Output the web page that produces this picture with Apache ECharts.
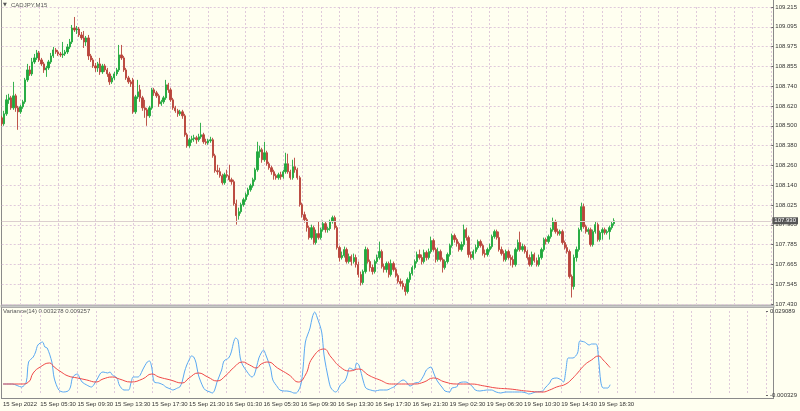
<!DOCTYPE html>
<html><head><meta charset="utf-8">
<script src="https://cdn.jsdelivr.net/npm/echarts@6/dist/echarts.min.js"></script>
<style>html,body{margin:0;padding:0;background:#fffff0;}#c{width:800px;height:411px;}</style>
</head><body><div id="c"></div><script>
const priceTickLabels = ['107.430','107.545','107.665','107.785','107.905','108.025','108.140','108.260','108.380','108.500','108.620','108.740','108.855','108.975','109.095','109.215'];
const varianceTickLabels = ['-0.000329','0.029089'];
const timeTickLabels = ['15 Sep 2022','15 Sep 05:30','15 Sep 09:30','15 Sep 13:30','15 Sep 17:30','15 Sep 21:30','16 Sep 01:30','16 Sep 05:30','16 Sep 09:30','16 Sep 13:30','16 Sep 17:30','16 Sep 21:30','19 Sep 02:30','19 Sep 06:30','19 Sep 10:30','19 Sep 14:30','19 Sep 18:30'];
const lastPrice = 107.930;
// [open, close, low, high]
const candles15 = [
[108.549,108.513,108.501,108.561],[108.513,108.573,108.501,108.591],[108.573,108.657,108.561,108.687],[108.657,108.669,108.633,108.693],[108.669,108.609,108.597,108.681],
[108.609,108.681,108.597,108.765],[108.681,108.609,108.585,108.693],[108.609,108.585,108.477,108.621],[108.585,108.615,108.573,108.627],[108.615,108.645,108.603,108.657],
[108.645,108.777,108.633,108.789],[108.777,108.837,108.765,108.873],[108.837,108.813,108.801,108.861],[108.813,108.885,108.801,108.909],[108.885,108.909,108.873,108.933],
[108.909,108.939,108.897,108.957],[108.939,108.897,108.885,108.951],[108.897,108.873,108.861,108.909],[108.873,108.837,108.819,108.885],[108.837,108.849,108.795,108.861],
[108.849,108.885,108.837,108.897],[108.885,108.921,108.873,108.939],[108.921,108.957,108.909,108.975],[108.957,108.945,108.933,108.969],[108.945,108.933,108.921,108.957],
[108.933,108.927,108.915,108.945],[108.927,108.933,108.909,109.005],[108.933,108.945,108.921,108.957],[108.945,108.975,108.933,108.993],[108.975,109.005,108.963,109.023],
[109.005,109.089,108.993,109.107],[109.089,109.077,109.065,109.155],[109.077,109.083,109.053,109.101],[109.083,109.047,109.035,109.095],[109.047,109.029,109.017,109.065],
[109.029,109.005,108.969,109.071],[109.005,109.029,108.981,109.041],[109.029,108.921,108.897,109.047],[108.921,108.897,108.885,108.933],[108.897,108.861,108.849,108.909],
[108.861,108.849,108.825,108.879],[108.849,108.873,108.825,108.885],[108.873,108.825,108.807,108.909],[108.825,108.861,108.813,108.873],[108.861,108.837,108.825,108.873],
[108.837,108.813,108.795,108.849],[108.813,108.765,108.747,108.825],[108.765,108.789,108.753,108.801],[108.789,108.813,108.777,108.825],[108.813,108.837,108.801,108.849],
[108.837,108.927,108.825,108.987],[108.927,108.909,108.897,108.987],[108.909,108.837,108.825,108.921],[108.837,108.789,108.777,108.849],[108.789,108.765,108.753,108.801],
[108.765,108.753,108.735,108.777],[108.777,108.585,108.573,108.789],[108.585,108.675,108.573,108.687],[108.675,108.705,108.663,108.777],[108.717,108.669,108.645,108.747],
[108.669,108.609,108.591,108.681],[108.609,108.597,108.549,108.657],[108.597,108.561,108.501,108.609],[108.561,108.609,108.549,108.621],[108.609,108.717,108.597,108.729],
[108.717,108.699,108.681,108.729],[108.699,108.681,108.669,108.711],[108.681,108.633,108.615,108.693],[108.633,108.645,108.621,108.657],[108.645,108.669,108.633,108.681],
[108.669,108.747,108.657,108.777],[108.747,108.717,108.699,108.759],[108.717,108.657,108.645,108.729],[108.657,108.609,108.597,108.669],[108.609,108.591,108.579,108.621],
[108.591,108.573,108.555,108.603],[108.573,108.585,108.561,108.597],[108.585,108.561,108.543,108.597],[108.561,108.447,108.435,108.573],[108.447,108.381,108.369,108.459],
[108.381,108.417,108.369,108.429],[108.417,108.423,108.399,108.441],[108.423,108.429,108.405,108.447],[108.429,108.417,108.393,108.441],[108.417,108.435,108.405,108.453],
[108.435,108.447,108.423,108.519],[108.447,108.405,108.393,108.459],[108.405,108.399,108.387,108.423],[108.399,108.411,108.387,108.423],[108.411,108.417,108.399,108.435]
];
const candles16 = [
[108.417,108.321,108.309,108.429],[108.321,108.231,108.219,108.333],[108.231,108.225,108.207,108.267],[108.225,108.201,108.189,108.249],[108.201,108.159,108.147,108.213],
[108.159,108.207,108.147,108.219],[108.207,108.201,108.189,108.237],[108.201,108.177,108.165,108.267],[108.177,108.165,108.147,108.189],[108.165,108.033,108.021,108.177],
[108.033,107.961,107.907,108.057],[107.961,107.985,107.937,108.009],[107.985,108.027,107.973,108.039],[108.027,108.057,108.015,108.069],[108.057,108.087,108.045,108.099],
[108.087,108.117,108.075,108.129],[108.117,108.141,108.105,108.153],[108.141,108.177,108.129,108.189],[108.177,108.237,108.165,108.249],[108.237,108.345,108.225,108.405],
[108.345,108.357,108.309,108.381],[108.357,108.297,108.279,108.369],[108.297,108.339,108.285,108.405],[108.339,108.273,108.261,108.351],[108.273,108.249,108.237,108.285],
[108.249,108.225,108.207,108.261],[108.225,108.201,108.177,108.237],[108.201,108.189,108.177,108.213],[108.189,108.207,108.177,108.219],[108.207,108.195,108.177,108.225],
[108.195,108.225,108.183,108.237],[108.225,108.273,108.213,108.339],[108.273,108.225,108.213,108.333],[108.225,108.189,108.177,108.237],[108.189,108.255,108.177,108.297],
[108.255,108.237,108.219,108.309],[108.237,108.189,108.177,108.249],[108.189,108.027,108.015,108.201],[108.027,107.967,107.949,108.039],[107.967,107.937,107.919,107.985],
[107.937,107.889,107.865,107.949],[107.889,107.829,107.817,107.901],[107.829,107.889,107.817,107.907],[107.889,107.799,107.787,107.901],[107.799,107.853,107.787,107.877],
[107.853,107.829,107.817,107.925],[107.829,107.877,107.817,107.889],[107.877,107.913,107.865,107.931],[107.913,107.877,107.859,107.925],[107.877,107.883,107.859,107.895],
[107.883,107.925,107.871,107.937],[107.925,107.949,107.913,107.961],[107.949,107.889,107.877,107.961],[107.889,107.769,107.757,107.901],[107.769,107.709,107.685,107.781],
[107.709,107.721,107.697,107.745],[107.721,107.757,107.709,107.775],[107.757,107.685,107.673,107.769],[107.685,107.715,107.673,107.733],[107.715,107.685,107.661,107.727],
[107.685,107.709,107.673,107.733],[107.709,107.667,107.649,107.727],[107.667,107.607,107.589,107.685],[107.607,107.559,107.541,107.625],[107.559,107.625,107.547,107.637],
[107.625,107.757,107.613,107.775],[107.757,107.685,107.673,107.769],[107.685,107.649,107.625,107.697],[107.649,107.625,107.607,107.667],[107.625,107.685,107.613,107.697],
[107.685,107.709,107.673,107.727],[107.709,107.745,107.697,107.805],[107.745,107.655,107.643,107.757],[107.655,107.637,107.619,107.673],[107.637,107.673,107.619,107.685],
[107.673,107.607,107.589,107.685],[107.607,107.673,107.595,107.697],[107.673,107.637,107.625,107.685],[107.637,107.601,107.589,107.649],[107.601,107.565,107.553,107.613],
[107.565,107.553,107.535,107.583],[107.553,107.535,107.517,107.571],[107.535,107.505,107.481,107.553],[107.505,107.577,107.493,107.589],[107.577,107.613,107.559,107.625],
[107.613,107.649,107.601,107.661],[107.649,107.685,107.637,107.697],[107.685,107.727,107.673,107.745],[107.727,107.709,107.697,107.757],[107.709,107.685,107.667,107.727],
[107.685,107.739,107.673,107.757],[107.739,107.709,107.691,107.751]
];
const candles19 = [
[107.709,107.745,107.697,107.763],[107.745,107.811,107.733,107.835],[107.811,107.757,107.745,107.823],[107.757,107.697,107.679,107.769],[107.697,107.745,107.685,107.769],
[107.745,107.697,107.685,107.757],[107.697,107.649,107.619,107.709],[107.649,107.685,107.637,107.697],[107.685,107.727,107.673,107.739],[107.727,107.781,107.715,107.793],
[107.781,107.841,107.769,107.853],[107.841,107.817,107.799,107.853],[107.817,107.793,107.775,107.829],[107.793,107.757,107.745,107.805],[107.757,107.787,107.745,107.805],
[107.787,107.877,107.775,107.907],[107.877,107.829,107.811,107.889],[107.829,107.727,107.709,107.841],[107.727,107.709,107.697,107.745],[107.709,107.745,107.697,107.757],
[107.745,107.769,107.733,107.787],[107.769,107.805,107.757,107.817],[107.805,107.781,107.769,107.817],[107.781,107.733,107.721,107.793],[107.733,107.727,107.709,107.757],
[107.727,107.757,107.715,107.769],[107.757,107.775,107.745,107.793],[107.775,107.835,107.763,107.847],[107.835,107.865,107.823,107.877],[107.865,107.829,107.817,107.877],
[107.829,107.757,107.745,107.865],[107.757,107.733,107.721,107.775],[107.733,107.697,107.685,107.751],[107.697,107.745,107.685,107.757],[107.745,107.709,107.697,107.757],
[107.709,107.697,107.661,107.727],[107.697,107.667,107.649,107.721],[107.667,107.757,107.655,107.769],[107.757,107.799,107.745,107.817],[107.799,107.757,107.745,107.865],
[107.757,107.775,107.745,107.793],[107.775,107.745,107.733,107.787],[107.745,107.709,107.697,107.757],[107.709,107.667,107.655,107.727],[107.667,107.727,107.655,107.745],
[107.727,107.691,107.679,107.739],[107.691,107.667,107.655,107.709],[107.667,107.709,107.655,107.727],[107.709,107.757,107.697,107.769],[107.757,107.817,107.745,107.829],
[107.817,107.805,107.787,107.829],[107.805,107.835,107.793,107.847],[107.835,107.877,107.823,107.889],[107.877,107.925,107.865,107.949],[107.925,107.865,107.853,107.937],
[107.865,107.853,107.841,107.883],[107.853,107.865,107.841,107.877],[107.865,107.799,107.787,107.877],[107.799,107.769,107.757,107.811],[107.769,107.745,107.733,107.787],
[107.745,107.595,107.583,107.757],[107.595,107.535,107.469,107.607],[107.535,107.709,107.517,107.727],[107.709,107.757,107.685,107.775],[107.757,107.877,107.745,107.889],
[107.877,108.015,107.865,108.039],[108.015,107.895,107.883,108.033],[107.895,107.865,107.853,107.907],[107.865,107.877,107.847,107.889],[107.877,107.787,107.775,107.889],
[107.787,107.865,107.775,107.877],[107.865,107.907,107.853,107.925],[107.907,107.817,107.805,107.919],[107.817,107.859,107.805,107.871],[107.859,107.877,107.817,107.889],
[107.877,107.859,107.847,107.889],[107.859,107.865,107.847,107.877],[107.865,107.889,107.817,107.901],[107.889,107.913,107.877,107.925],[107.913,107.930,107.901,107.945]
];
// [bar index, value]
const varianceMain = [[0,0.00352],[4,0.00352],[8,0.00247],[10,0.00422],[11,0.01123],[13,0.01298],[14,0.01473],[15,0.01718],[17,0.01823],[18,0.01648],[19,0.01613],[21,0.01123],[22,0.00563],[24,0.00142],[26,0.00072],[28,0.00107],[29,0.00247],[30,0.00598],[32,0.00703],[33,0.00563],[34,0.00422],[36,0.00317],[38,0.00247],[39,0.00317],[41,0.00598],[42,0.00738],[43,0.00773],[45,0.00738],[46,0.00773],[47,0.00668],[49,0.00563],[50,0.00317],[52,0.00142],[54,0.00142],[55,0.00387],[56,0.00598],[58,0.00598],[59,0.00668],[60,0.00843],[62,0.01123],[63,0.01158],[64,0.00913],[65,0.00422],[67,0.00387],[69,0.00317],[70,0.00247],[72,0.00177],[73,0.00142],[75,0.00212],[76,0.00247],[77,0.00422],[78,0.00773],[79,0.01018],[80,0.01193],[81,0.01333],[82,0.01298],[83,0.01088],[84,0.00668],[86,0.00247],[87,0.00142],[89,0.00072],[90,0.00037],[91,0.00142],[92,0.00422],[94,0.00843],[95,0.01158],[97,0.01263],[98,0.01438],[100,0.01963],[101,0.01893],[102,0.01263],[103,0.01018],[105,0.00773],[107,0.00598],[108,0.00668],[109,0.00948],[110,0.01263],[111,0.01438],[112,0.01543],[113,0.01368],[115,0.00913],[116,0.00493],[118,0.00247],[119,0.00142],[121,0.00107],[122,0.00107],[124,0.00072],[125,0.00037],[126,0.00037],[128,0.00317],[129,0.00913],[130,0.01823],[132,0.02314],[133,0.02699],[134,0.02874],[135,0.02699],[137,0.02174],[138,0.01368],[140,0.00493],[141,0.00212],[143,0.00072],[144,0.00142],[145,0.00317],[147,0.00458],[148,0.00668],[149,0.00913],[151,0.00843],[152,0.01088],[153,0.01018],[155,0.00422],[156,0.00212],[158,0.00142],[160,0.00107],[162,0.00142],[165,0.00142],[167,0.00212],[168,0.00247],[170,0.00387],[172,0.00493],[173,0.00458],[175,0.00282],[176,0.00317],[177,0.00387],[179,0.00422],[181,0.00668],[182,0.00843],[184,0.00948],[185,0.00773],[186,0.00563],[187,0.00422],[189,0.00212],[190,0.00107],[192,0.00072],[193,0.00212],[195,0.00247],[196,0.00387],[198,0.00422],[199,0.00422],[200,0.00387],[202,0.00247],[203,0.00142],[205,0.00107],[208,0.00142],[210,0.00142],[212,0.00072],[214,0.00037],[216,0.00072],[219,0.00072],[221,0.00072],[223,0.00072],[225,0.00037],[226,0.00002],[229,0.00072],[232,0.00107],[233,0.00212],[235,0.00387],[236,0.00528],[238,0.00563],[240,0.00493],[241,0.00422],[242,0.00843],[243,0.01263],[245,0.01263],[247,0.01438],[248,0.01858],[250,0.01823],[252,0.01718],[253,0.01753],[255,0.01753],[256,0.01263],[257,0.00422],[258,0.00212],[260,0.00212],[261,0.003278]];
const varianceSignal = [[0,0.00352],[8,0.00352],[11,0.00422],[13,0.00738],[16,0.00948],[20,0.01088],[22,0.00948],[25,0.00773],[28,0.00633],[32,0.00563],[36,0.00493],[40,0.00422],[43,0.00528],[47,0.00598],[50,0.00528],[55,0.00422],[60,0.00528],[64,0.00703],[67,0.00598],[72,0.00493],[77,0.00387],[80,0.00563],[84,0.00738],[88,0.00598],[92,0.00458],[96,0.00668],[99,0.00913],[103,0.01123],[106,0.01018],[109,0.00913],[111,0.01053],[114,0.01123],[118,0.00913],[123,0.00668],[127,0.00422],[130,0.00668],[133,0.01263],[138,0.01578],[141,0.01298],[145,0.00948],[149,0.00808],[153,0.00878],[157,0.00668],[162,0.00493],[167,0.00352],[173,0.00352],[177,0.00352],[181,0.00422],[185,0.00563],[190,0.00422],[195,0.00352],[201,0.00352],[207,0.00282],[212,0.00212],[218,0.00177],[225,0.00107],[232,0.00072],[235,0.00142],[238,0.00247],[242,0.00352],[245,0.00563],[247,0.00738],[250,0.01018],[253,0.01193],[256,0.01333],[258,0.01193],[261,0.009257]];

const PRICE_MIN = 107.430, PRICE_MAX = 109.215, PRICE_STEP = 0.119;
const VAR_MIN = -0.000329, VAR_MAX = 0.029089;
const SLOT_COUNT = 329;
const slots = Array.from({length: SLOT_COUNT}, (_, i) => String(i));
const candles = candles15.concat(candles16, candles19);

const FONT = 'Liberation Sans';
const GRID_COLOR = '#e0cadb';
const UP = '#1fa83c', DOWN = '#b8443a';
const LEFT = 1.7, WIDTH = 2.35 * (SLOT_COUNT - 1);

function xAxisCfg(gridIndex, showLabels) {
  return {
    type: 'category', gridIndex, data: slots, boundaryGap: false,
    axisLine: {show: false}, axisTick: {show: false},
    axisLabel: {
      show: showLabels, interval: (i) => i % 16 === 0 && i / 16 < timeTickLabels.length,
      formatter: (v, i) => timeTickLabels[Math.round(Number(v) / 16)] || '',
      align: 'left', margin: 6, fontSize: 6, fontFamily: FONT, color: '#333'
    },
    splitLine: {show: true, interval: (i) => i > 0 && i % 8 === 0, lineStyle: {color: GRID_COLOR, type: [2, 2], width: 1}}
  };
}

const chart = echarts.init(document.getElementById('c'), null, {renderer: 'canvas'});
chart.setOption({
  backgroundColor: '#fffff0',
  animation: false,
  grid: [
    {left: LEFT, width: WIDTH, top: 7, height: 297},
    {left: LEFT, width: WIDTH, top: 311, height: 84}
  ],
  xAxis: [xAxisCfg(0, false), xAxisCfg(1, true)],
  yAxis: [
    {type: 'value', gridIndex: 0, position: 'right', min: PRICE_MIN, max: PRICE_MAX, interval: PRICE_STEP, scale: true,
     axisLine: {show: false}, axisTick: {show: true, length: 2, lineStyle: {color: '#666'}},
     axisLabel: {margin: 4, fontSize: 6, fontFamily: FONT, color: '#333',
       formatter: (v) => priceTickLabels[Math.round((v - PRICE_MIN) / PRICE_STEP)] || ''},
     splitLine: {show: true, lineStyle: {color: GRID_COLOR, type: [2, 2], width: 1}}},
    {type: 'value', gridIndex: 1, position: 'right', min: VAR_MIN, max: VAR_MAX, interval: VAR_MAX - VAR_MIN,
     axisLine: {show: false}, axisTick: {show: true, length: 2, lineStyle: {color: '#666'}},
     axisLabel: {margin: 4, fontSize: 6, fontFamily: FONT, color: '#333',
       formatter: (v) => varianceTickLabels[Math.round((v - VAR_MIN) / (VAR_MAX - VAR_MIN))] || ''},
     splitLine: {show: false}}
  ],
  series: [
    {type: 'candlestick', xAxisIndex: 0, yAxisIndex: 0, data: candles, barWidth: 1.8, clip: false,
     itemStyle: {color: UP, color0: DOWN, borderColor: UP, borderColor0: DOWN, borderWidth: 0.9},
     markLine: {symbol: 'none', silent: true, animation: false,
       lineStyle: {color: '#dccfcf', type: 'solid', width: 1},
       label: {show: true, position: 'end', formatter: lastPrice.toFixed(3), color: '#fff', backgroundColor: '#555',
               padding: [1, 2, 0, 2], fontSize: 6, fontFamily: FONT, distance: 1},
       data: [{yAxis: lastPrice}]}},
    {type: 'line', xAxisIndex: 1, yAxisIndex: 1, data: varianceMain, showSymbol: false, smooth: 0.3,
     lineStyle: {color: '#5aa8f2', width: 1}},
    {type: 'line', xAxisIndex: 1, yAxisIndex: 1, data: varianceSignal, showSymbol: false, smooth: 0.5,
     lineStyle: {color: '#f04848', width: 1}}
  ],
  graphic: [
    {type: 'line', shape: {x1: 1.5, y1: 0, x2: 1.5, y2: 399}, style: {stroke: '#8a8a8a', lineWidth: 1}},
    {type: 'line', shape: {x1: 773.5, y1: 0, x2: 773.5, y2: 399}, style: {stroke: '#8a8a8a', lineWidth: 1}},
    {type: 'rect', shape: {x: 1, y: 305, width: 773, height: 2.5}, style: {fill: '#c9c9c9', stroke: '#8a8a8a', lineWidth: 0.6}},
    {type: 'line', shape: {x1: 1, y1: 398.5, x2: 774, y2: 398.5}, style: {stroke: '#8a8a8a', lineWidth: 1}},
    {type: 'text', left: 3, top: 2, style: {text: '\u25BC', fontSize: 5, fontFamily: 'DejaVu Sans', fill: '#555'}},
    {type: 'text', left: 11, top: 2.5, style: {text: 'CADJPY,M15', fontSize: 6, fontFamily: FONT, fill: '#555'}},
    {type: 'text', left: 3, top: 308, style: {text: 'Variance(14) 0.003278 0.009257', fontSize: 6, fontFamily: FONT, fill: '#555'}}
  ]
});
</script></body></html>
